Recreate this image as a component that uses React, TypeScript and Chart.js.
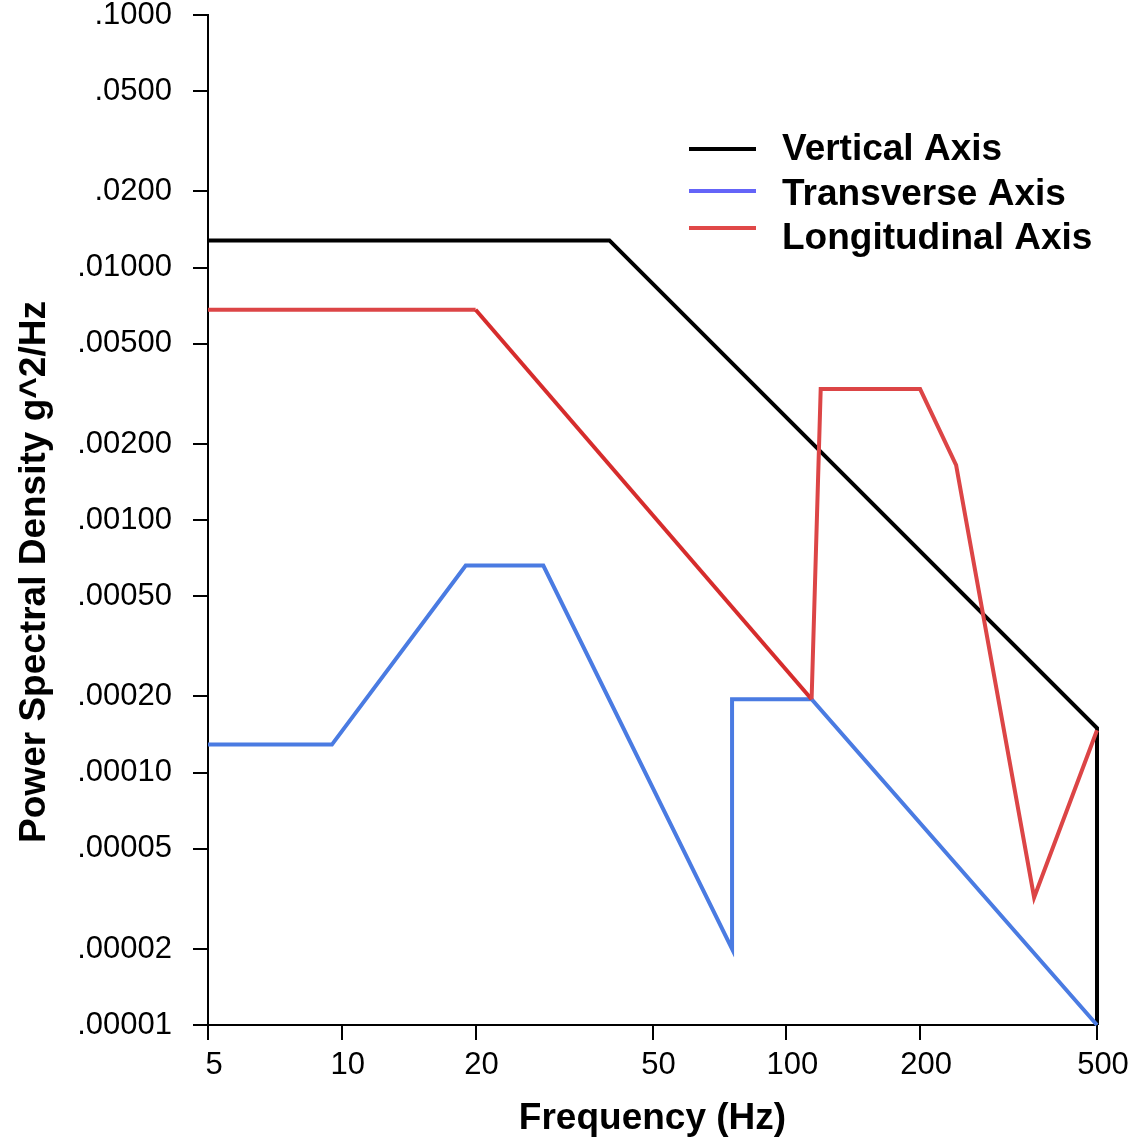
import { useEffect, useRef } from "react";
import { Chart, registerables } from "chart.js";

Chart.register(...registerables);

// ---- data ----
const seriesNames = ["Vertical Axis", "Transverse Axis", "Longitudinal Axis"];

const verticalFreq = [5, 40, 500, 500];
const verticalPsd = [0.0128, 0.0128, 0.00015, 0.00001];

const transverseFreq = [5, 9.5, 19, 28.4, 75.5, 75.5, 114, 500];
const transversePsd = [0.000129, 0.000129, 0.00066, 0.00066, 0.00002, 0.000195, 0.000195, 0.00001];

const longitudinalFreq = [5, 20, 114, 119.5, 200, 241, 361, 500];
const longitudinalPsd = [0.0068, 0.0068, 0.000195, 0.0033, 0.0033, 0.00165, 0.000032, 0.000147];

const xTickValues = [5, 10, 20, 50, 100, 200, 500];
const xTickLabels = ["5", "10", "20", "50", "100", "200", "500"];

const yTickValues = [0.00001, 0.00002, 0.00005, 0.0001, 0.0002, 0.0005, 0.001, 0.002, 0.005, 0.01, 0.02, 0.05, 0.1];
const yTickLabels = [".00001", ".00002", ".00005", ".00010", ".00020", ".00050", ".00100", ".00200", ".00500", ".01000", ".0200", ".0500", ".1000"];

const xTitle = "Frequency (Hz)";
const yTitle = "Power Spectral Density g^2/Hz";

// ---- styling ----
const FONT = '"Liberation Sans", Arial, Helvetica, sans-serif';
const lineColors = ["#000000", "#4a7be2", "#dc4546"];
const legendColors = ["#000000", "#6464f8", "#e04848"];
const longitudinalDropColor = "#d62c2c";

const toPoints = (xs: number[], ys: number[]) => xs.map((x, i) => ({ x, y: ys[i] }));

const overlayPlugin = {
  id: "overlayTexts",
  afterDraw(chart: any) {
    const { ctx, chartArea } = chart;
    ctx.save();
    // y axis title
    ctx.fillStyle = "#000";
    ctx.font = `bold 37px ${FONT}`;
    ctx.textAlign = "center";
    ctx.textBaseline = "middle";
    ctx.translate(35, chartArea.top + 557);
    ctx.rotate(-Math.PI / 2);
    ctx.fillText(yTitle, 0, 0);
    ctx.restore();

    // legend
    ctx.save();
    const lineX0 = chartArea.left + 481;
    const lineX1 = chartArea.left + 548;
    const lineYs = [149, 191, 228];
    const textYs = [150, 195, 239];
    ctx.font = `bold 37px ${FONT}`;
    ctx.textAlign = "left";
    ctx.textBaseline = "middle";
    seriesNames.forEach((name, i) => {
      ctx.strokeStyle = legendColors[i];
      ctx.lineWidth = 4;
      ctx.beginPath();
      ctx.moveTo(lineX0, lineYs[i]);
      ctx.lineTo(lineX1, lineYs[i]);
      ctx.stroke();
      ctx.fillStyle = "#000";
      ctx.fillText(name, chartArea.left + 574, textYs[i]);
    });
    ctx.restore();
  },
};

export default function App() {
  const canvasRef = useRef<HTMLCanvasElement | null>(null);

  useEffect(() => {
    if (!canvasRef.current) return;
    const mk = (i: number, xs: number[], ys: number[], order: number, extra: any = {}) => ({
      label: seriesNames[i],
      data: toPoints(xs, ys),
      borderColor: lineColors[i],
      backgroundColor: lineColors[i],
      borderWidth: 4,
      pointRadius: 0,
      tension: 0,
      fill: false,
      clip: 6,
      order,
      ...extra,
    });
    const chart = new Chart(canvasRef.current, {
      type: "line",
      data: {
        datasets: [
          mk(2, longitudinalFreq, longitudinalPsd, 0, {
            segment: {
              borderColor: (c: any) => (c.p0DataIndex === 1 ? longitudinalDropColor : undefined),
            },
          }),
          mk(1, transverseFreq, transversePsd, 1),
          mk(0, verticalFreq, verticalPsd, 2),
        ],
      },
      plugins: [overlayPlugin],
      options: {
        animation: false,
        responsive: false,
        parsing: true,
        layout: { padding: { top: 15, right: 39, left: 0, bottom: 0 } },
        plugins: { legend: { display: false }, tooltip: { enabled: false } },
        scales: {
          x: {
            type: "logarithmic",
            min: 5,
            max: 500,
            afterBuildTicks: (scale: any) => {
              scale.ticks = xTickValues.map((v) => ({ value: v }));
            },
            afterFit: (scale: any) => {
              scale.height = 116;
              scale.paddingLeft = 0;
              scale.paddingRight = 0;
            },
            ticks: {
              autoSkip: false,
              maxRotation: 0,
              padding: 7,
              labelOffset: 6,
              color: "#000",
              font: { family: FONT, size: 31 },
              callback: (_v: any, i: number) => xTickLabels[i],
            },
            grid: { drawOnChartArea: false, drawTicks: true, tickLength: 15, color: "#000", lineWidth: 2 },
            border: { display: true, color: "#000", width: 2 },
            title: {
              display: true,
              text: xTitle,
              color: "#000",
              font: { family: FONT, size: 37, weight: "bold" },
              padding: { top: 0, bottom: 0 },
            },
          },
          y: {
            type: "logarithmic",
            min: 0.00001,
            max: 0.1,
            afterBuildTicks: (scale: any) => {
              scale.ticks = yTickValues.map((v) => ({ value: v }));
            },
            afterFit: (scale: any) => {
              scale.width = 208;
              scale.paddingTop = 0;
              scale.paddingBottom = 0;
            },
            ticks: {
              autoSkip: false,
              padding: 21,
              color: "#000",
              font: { family: FONT, size: 31 },
              callback: (_v: any, i: number) => yTickLabels[i],
            },
            grid: { drawOnChartArea: false, drawTicks: true, tickLength: 15, color: "#000", lineWidth: 2 },
            border: { display: true, color: "#000", width: 2 },
          },
        },
      } as any,
    });
    return () => chart.destroy();
  }, []);

  return (
    <div style={{ position: "absolute", left: 0, top: 0, width: 1136, height: 1141, background: "#fff" }}>
      <canvas ref={canvasRef} width={1136} height={1141} style={{ display: "block" }} />
    </div>
  );
}
